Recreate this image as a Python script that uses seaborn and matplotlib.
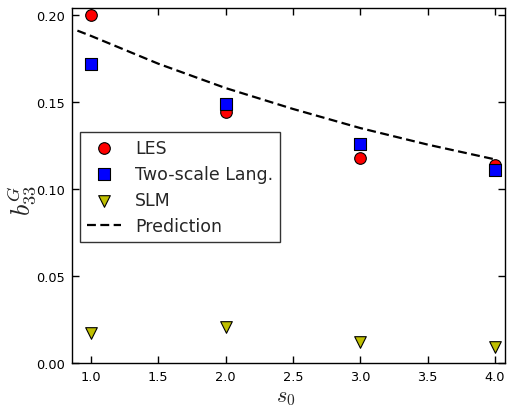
import matplotlib
matplotlib.use("Agg")
import matplotlib.pyplot as plt
import seaborn as sns
import pandas as pd
import numpy as np

# Data
s0 = [1.0, 2.0, 3.0, 4.0]
les = [0.200, 0.144, 0.118, 0.114]
two_scale = [0.172, 0.149, 0.126, 0.111]
slm = [0.017, 0.0205, 0.012, 0.009]
pred_s = [0.9, 1.0, 1.5, 2.0, 2.5, 3.0, 3.5, 4.0]
pred_b = [0.191, 0.188, 0.172, 0.158, 0.146, 0.135, 0.1255, 0.117]
xticks = [1.0, 1.5, 2.0, 2.5, 3.0, 3.5, 4.0]
yticks = [0.00, 0.05, 0.10, 0.15, 0.20]

sns.set_style("ticks", {
    "xtick.direction": "in", "ytick.direction": "in",
    "axes.edgecolor": "black",
})
plt.rcParams["font.family"] = ["DejaVu Sans"]
plt.rcParams["mathtext.fontset"] = "cm"

fig = plt.figure(figsize=(5.07, 4.10), dpi=100)
ax = fig.add_axes([72/507, 1-364/410, (505-72)/507, (364-9)/410])

df_les = pd.DataFrame({"s": s0, "b": les})
df_two = pd.DataFrame({"s": s0, "b": two_scale})
df_slm = pd.DataFrame({"s": s0, "b": slm})
df_pred = pd.DataFrame({"s": pred_s, "b": pred_b})

sns.scatterplot(data=df_les, x="s", y="b", ax=ax, marker="o", color="red",
                edgecolor="black", linewidth=0.8, s=70, label="LES", zorder=3)
sns.scatterplot(data=df_two, x="s", y="b", ax=ax, marker="s", color="blue",
                edgecolor="black", linewidth=0.8, s=70, label="Two-scale Lang.", zorder=3)
sns.scatterplot(data=df_slm, x="s", y="b", ax=ax, marker="v", color=(0.75, 0.75, 0.0),
                edgecolor="black", linewidth=0.8, s=70, label="SLM", zorder=3)
sns.lineplot(data=df_pred, x="s", y="b", ax=ax, color="black", dashes=False,
             linewidth=1.6, label="Prediction", zorder=2)
ax.lines[-1].set_dashes((4, 2))

ax.set_xlim(0.86, 4.074)
ax.set_ylim(0.0, 0.204)
ax.set_xticks(xticks)
ax.set_xticklabels([f"{t:.1f}" for t in xticks])
ax.set_yticks(yticks)
ax.set_yticklabels([f"{t:.2f}" for t in yticks])
ax.tick_params(axis="both", which="major", direction="in", length=5, width=1,
               labelsize=9.3, top=True, right=True, pad=5, colors="black")
for sp in ax.spines.values():
    sp.set_visible(True)
    sp.set_linewidth(1.0)
    sp.set_color("black")

ax.set_xlabel(r"$s_0$", fontsize=16)
ax.xaxis.set_label_coords(0.494, -0.068)
ax.set_ylabel(r"$b_{33}^G$", fontsize=19)
ax.yaxis.set_label_coords(-0.077, 0.46)

leg = ax.legend(loc="upper left", bbox_to_anchor=(0.018, 0.651), borderaxespad=0,
                fontsize=12.5, fancybox=False, frameon=True, handlelength=2.0,
                handletextpad=0.8, labelspacing=0.47, borderpad=0.4)
leg.get_frame().set_edgecolor("black")
leg.get_frame().set_linewidth(1.0)
leg.get_lines()[0].set_linestyle((0, (4, 2)))

fig.savefig("out.png", dpi=100)
